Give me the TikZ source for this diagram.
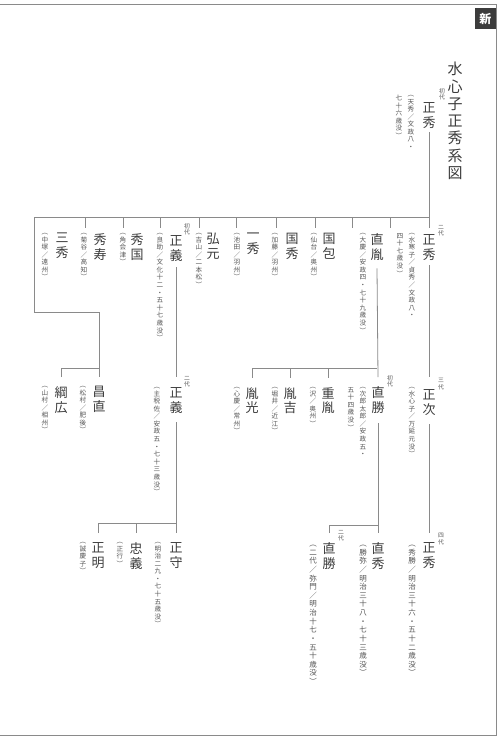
\documentclass[tikz,border=0pt]{standalone}
\usepackage{fontspec}
\newfontfamily\jp{Noto Sans CJK JP}
\usetikzlibrary{calc,positioning}
\definecolor{ink}{HTML}{3C3C3C}
\definecolor{soft}{HTML}{555555}
\definecolor{rule}{HTML}{8A8A8A}

% vertical text: one character per line
\makeatletter
\def\tate#1{\vbox{\baselineskip=1.15em\lineskiplimit=-100pt\tate@loop#1\relax}}
\def\tate@loop#1{\ifx#1\relax\else\hbox to 1em{\hss#1\hss}\expandafter\tate@loop\fi}
\makeatother

\begin{document}
\begin{tikzpicture}[
  x=1pt, y=-1pt,
  person/.style={anchor=north, inner sep=0pt, text=ink, font=\jp\fontsize{13}{15}\selectfont},
  note/.style={anchor=north, inner sep=0pt, text=soft, font=\jp\fontsize{6.6}{8}\selectfont},
  bignote/.style={note, font=\jp\fontsize{7.5}{8}\selectfont},
  gen/.style={anchor=north, inner sep=0pt, text=soft, font=\jp\fontsize{5.8}{7}\selectfont},
  link/.style={draw=rule, line width=0.8pt}
]
\fill[white] (0,0) rectangle (500,741);
\useasboundingbox (0,0) rectangle (500,741);

% page frame
\draw[link, line width=0.6pt] (0,4) -- (496,4) -- (496,735) -- (0,735);
\node[fill=ink, text=white, font=\jp\bfseries\fontsize{12}{12}\selectfont, minimum size=21pt, inner sep=0pt, anchor=north east] (mark) at (496,8) {新};

\node[person, font=\jp\fontsize{15}{17}\selectfont] (title) at (455,62) {\tate{水心子正秀系図}};

% first generation
\node[gen] (g-masahide1) at (442,88) {\tate{初代}};
\node[person] (masahide1) at (429,102) {\tate{正秀}};
\node[note] (n-masahide1a) at (411,95) {\tate{︵天秀／文政八・}};
\node[note] (n-masahide1b) at (399,95) {\tate{七十六歳没︶}};

% second generation
\node[gen] (g-masahide2) at (441,225) {\tate{二代}};
\node[person] (masahide2) at (429,234) {\tate{正秀}};
\node[note] (n-masahide2a) at (412,233) {\tate{︵水寒子／貞秀／文政八・}};
\node[note] (n-masahide2b) at (400,233) {\tate{四十七歳没︶}};
\node[person] (naotane) at (377,233) {\tate{直胤}};
\node[note] (n-naotane) at (363,233) {\tate{︵大慶／安政四・七十九歳没︶}};
\node[person] (kunikane) at (329,233) {\tate{国包}};
\node[note] (n-kunikane) at (314,233) {\tate{︵仙台／奥州︶}};
\node[person] (kunihide) at (292,233) {\tate{国秀}};
\node[note] (n-kunihide) at (275,233) {\tate{︵加藤／羽州︶}};
\node[person] (kazuhide) at (253,233) {\tate{一秀}};
\node[note] (n-kazuhide) at (237,233) {\tate{︵池田／羽州︶}};
\node[person] (hiromoto) at (213,233) {\tate{弘元}};
\node[note] (n-hiromoto) at (199,233) {\tate{︵吉山／二本松︶}};
\node[gen] (g-masayoshi1) at (187,223) {\tate{初代}};
\node[person] (masayoshi1) at (176,235) {\tate{正義}};
\node[note] (n-masayoshi1) at (160,233) {\tate{︵良助／文化十二・五十七歳没︶}};
\node[person] (hidekuni) at (137,233) {\tate{秀国}};
\node[note] (n-hidekuni) at (123,233) {\tate{︵角会津︶}};
\node[person] (hidetoshi) at (100,233) {\tate{秀寿}};
\node[note] (n-hidetoshi) at (84,233) {\tate{︵菊谷／高知︶}};
\node[person] (mitsuhide) at (62,233) {\tate{三秀}};
\node[note] (n-mitsuhide) at (45,233) {\tate{︵中塚／遠州︶}};

% third generation
\node[gen] (g-masatsugu) at (441,378) {\tate{三代}};
\node[person] (masatsugu) at (429,389) {\tate{正次}};
\node[note] (n-masatsugu) at (412,387) {\tate{︵水心子／万延元没︶}};
\node[gen] (g-naokatsu1) at (390,375) {\tate{初代}};
\node[person] (naokatsu1) at (378,386) {\tate{直勝}};
\node[note] (n-naokatsu1a) at (363,387) {\tate{︵次郎太郎／安政五・}};
\node[note] (n-naokatsu1b) at (351,387) {\tate{五十四歳没︶}};
\node[person] (shigetane) at (328,387) {\tate{重胤}};
\node[note] (n-shigetane) at (313,387) {\tate{︵沢／奥州︶}};
\node[person] (taneyoshi) at (290,387) {\tate{胤吉}};
\node[note] (n-taneyoshi) at (275,387) {\tate{︵堀井／近江︶}};
\node[person] (tanemitsu) at (252,387) {\tate{胤光}};
\node[note] (n-tanemitsu) at (237,387) {\tate{︵心慶／常州︶}};
\node[gen] (g-masayoshi2) at (187,376) {\tate{二代}};
\node[person] (masayoshi2) at (176,387) {\tate{正義}};
\node[note] (n-masayoshi2) at (157,387) {\tate{︵主税佐／安政五・七十三歳没︶}};
\node[person] (masanao) at (99,386) {\tate{昌直}};
\node[note] (n-masanao) at (83,386) {\tate{︵松村／肥後︶}};
\node[person] (tsunahiro) at (61,386) {\tate{綱広}};
\node[note] (n-tsunahiro) at (45,386) {\tate{︵山村／相州︶}};

% fourth generation
\node[gen] (g-masahide4) at (441,533) {\tate{四代}};
\node[person] (masahide4) at (429,542) {\tate{正秀}};
\node[bignote] (n-masahide4) at (412,545) {\tate{︵秀勝／明治三十六・五十二歳没︶}};
\node[person] (naohide) at (378,542) {\tate{直秀}};
\node[bignote] (n-naohide) at (363,545) {\tate{︵勝弥／明治三十八・七十三歳没︶}};
\node[gen] (g-naokatsu2) at (341,530) {\tate{二代}};
\node[person] (naokatsu2) at (329,542) {\tate{直勝}};
\node[bignote] (n-naokatsu2) at (313,545) {\tate{︵二代／弥門／明治十七・五十歳没︶}};
\node[person] (masamori) at (176,542) {\tate{正守}};
\node[note] (n-masamori) at (158,542) {\tate{︵明治二九・七十五歳没︶}};
\node[person] (tadayoshi) at (136,542) {\tate{忠義}};
\node[note] (n-tadayoshi) at (120,542) {\tate{︵正行︶}};
\node[person] (masaaki) at (98,542) {\tate{正明}};
\node[note] (n-masaaki) at (83,542) {\tate{︵誠慶子︶}};

% connectors
\coordinate (bus1) at (34,217);
\coordinate (bus2) at (0,368);
\coordinate (bus3) at (0,525);
\coordinate (bus4) at (0,523);
\coordinate (bend) at (34,312);
\draw[link] ([yshift=-4pt]masahide1.south) -- (masahide1.south |- bus1) -- (bus1) -- (bend) -- (bend -| masanao.north) -- ([yshift=9pt]masanao.north);
\draw[link] (masahide1.south |- bus1) -- ([yshift=6pt]masahide2.north);
\foreach \n/\d in {naotane/13,kunikane/23,kunihide/23,kazuhide/23,hiromoto/23,masayoshi1/23,hidekuni/23,hidetoshi/23,mitsuhide/23}
  \draw[link] ([xshift=\d pt]\n.north |- bus1) -- ++(0,11);
\draw[link] ([yshift=-5pt]masahide2.south) -- ([yshift=12pt]masatsugu.north);
\draw[link] ([yshift=-9pt]masatsugu.south) -- ([yshift=9pt]masahide4.north);
\draw[link] ([yshift=-8pt]naotane.south) -- ([yshift=9pt]naokatsu1.north);
\draw[link] (tanemitsu.north |- bus2) -- (naotane.south |- bus2);
\foreach \n in {shigetane,taneyoshi,tanemitsu}
  \draw[link] (\n.north |- bus2) -- ([yshift=9pt]\n.north);
\draw[link] ([yshift=-10pt]naokatsu1.south) -- ([yshift=9pt]naohide.north);
\draw[link] ([yshift=9pt]naokatsu2.north) -- (naokatsu2.north |- bus3) -- (naohide.north |- bus3);
\draw[link] ([yshift=-6pt]masayoshi1.south) -- ([yshift=10pt]masayoshi2.north);
\draw[link] ([yshift=-9pt]masayoshi2.south) -- ([yshift=9pt]masamori.north);
\draw[link] ([yshift=9pt]masaaki.north) -- (masaaki.north |- bus4) -- (masamori.north |- bus4);
\draw[link] (tadayoshi.north |- bus4) -- ([yshift=9pt]tadayoshi.north);
\draw[link] ([yshift=9pt]tsunahiro.north) -- (tsunahiro.north |- bus2) -- (masanao.north |- bus2);
\end{tikzpicture}
\end{document}
